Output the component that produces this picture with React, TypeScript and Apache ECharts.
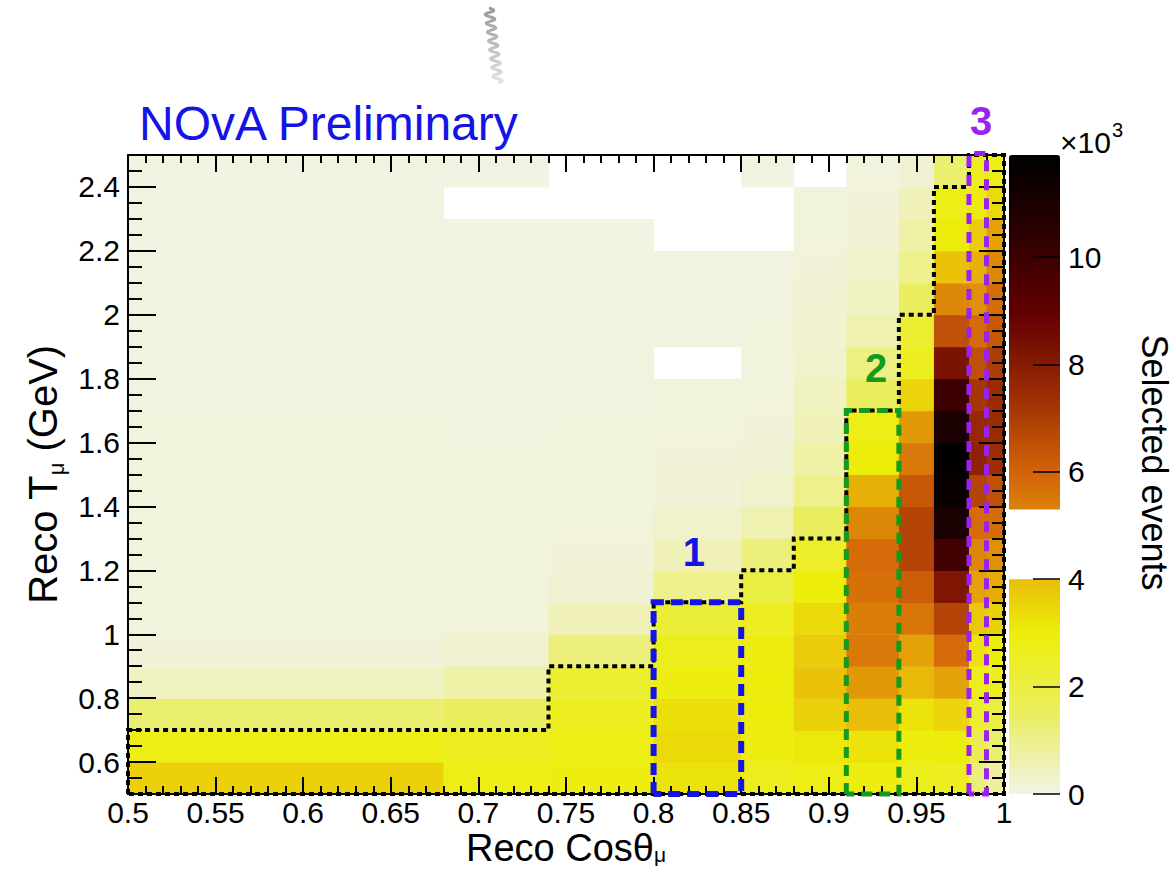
import React, { useEffect, useRef } from "react";
import * as echarts from "echarts";

// ---- binning ----
const xEdges = [0.5, 0.68, 0.74, 0.8, 0.85, 0.88, 0.91, 0.94, 0.96, 0.98, 0.99, 1.0];
const yEdges = [0.5, 0.6, 0.7, 0.8, 0.9, 1.0, 1.1, 1.2, 1.3, 1.4, 1.5, 1.6, 1.7, 1.8, 1.9, 2.0, 2.1, 2.2, 2.3, 2.4, 2.5];

// ---- selected events (x10^3), one array per cos-theta column, rows from T=0.5 upward ----
const col_050_068 = [3.6, 2.8, 1.3, 0.4, 0.15, 0.1, 0.1, 0.1, 0.1, 0.1, 0.1, 0.1, 0.08, 0.08, 0.08, 0.08, 0.06, 0.06, 0.05, 0.05];
const col_068_074 = [2.8, 2.6, 1.5, 0.7, 0.25, 0.12, 0.1, 0.1, 0.1, 0.1, 0.1, 0.08, 0.08, 0.08, 0.06, 0.06, 0.05, 0.05, 0, 0.04];
const col_074_080 = [2.9, 2.8, 2.6, 2.3, 1.2, 0.5, 0.2, 0.15, 0.12, 0.1, 0.1, 0.1, 0.08, 0.08, 0.06, 0.06, 0.05, 0.05, 0, 0];
const col_080_085 = [3.2, 3.4, 3.3, 2.9, 2.7, 2.2, 1.0, 0.5, 0.3, 0.18, 0.15, 0.12, 0.1, 0, 0.08, 0.07, 0.06, 0, 0, 0];
const col_085_088 = [2.7, 2.9, 3.0, 3.0, 2.9, 2.6, 2.0, 1.2, 0.6, 0.3, 0.2, 0.15, 0.12, 0.1, 0.1, 0.08, 0.07, 0, 0, 0.05];
const col_088_091 = [2.8, 3.1, 3.6, 3.9, 3.7, 3.4, 3.0, 2.4, 1.5, 1.0, 0.7, 0.5, 0.4, 0.3, 0.25, 0.2, 0.15, 0.1, 0.1, 0];
const col_091_094 = [2.9, 3.2, 4.0, 4.8, 5.5, 5.4, 5.7, 5.8, 5.2, 4.3, 3.0, 2.8, 1.5, 1.1, 0.6, 0.4, 0.3, 0.2, 0.15, 0.1];
const col_094_096 = [2.7, 2.9, 3.2, 4.1, 4.6, 5.6, 6.2, 6.8, 6.8, 6.3, 5.5, 4.8, 3.5, 2.6, 2.3, 1.5, 1.0, 0.7, 0.5, 0.2];
const col_096_098 = [2.6, 3.0, 3.5, 4.6, 5.8, 6.8, 8.2, 9.8, 11.0, 11.6, 11.8, 11.0, 10.0, 8.3, 6.5, 5.2, 3.9, 3.0, 2.8, 1.3];
const col_098_099 = [1.2, 1.7, 2.3, 2.8, 3.2, 3.8, 4.6, 5.2, 5.8, 6.8, 7.8, 7.6, 7.2, 6.5, 5.8, 5.0, 4.3, 3.7, 3.0, 2.6];
const col_099_100 = [0.8, 1.3, 2.0, 2.6, 3.0, 3.6, 4.4, 5.0, 5.8, 6.5, 7.4, 7.5, 7.5, 7.0, 6.3, 5.8, 5.2, 4.6, 3.4, 2.8];
const columns = [col_050_068, col_068_074, col_074_080, col_080_085, col_085_088, col_088_091, col_091_094, col_094_096, col_096_098, col_098_099, col_099_100];

// ---- overlay regions ----
const stairLine = [[0.5, 0.5], [0.5, 0.7], [0.74, 0.7], [0.74, 0.9], [0.8, 0.9], [0.8, 1.1], [0.85, 1.1], [0.85, 1.2], [0.88, 1.2], [0.88, 1.3], [0.91, 1.3], [0.91, 1.7], [0.94, 1.7], [0.94, 2.0], [0.96, 2.0], [0.96, 2.4], [0.98, 2.4], [0.98, 2.5], [1.0, 2.5], [1.0, 0.5], [0.5, 0.5]];
const box1 = [[0.8, 0.5], [0.8, 1.1], [0.85, 1.1], [0.85, 0.5], [0.8, 0.5]];
const box2 = [[0.91, 0.5], [0.91, 1.7], [0.94, 1.7], [0.94, 0.5], [0.91, 0.5]];
const box3 = [[0.98, 0.5], [0.98, 2.505], [0.99, 2.505], [0.99, 0.5], [0.98, 0.5]];
const boxLabels = ["1", "2", "3"];
const boxLabelAnchors = [[0.823, 1.256], [0.927, 1.834], [0.987, 2.606]];

// ---- ticks ----
const yMajorTicks = [0.6, 0.8, 1, 1.2, 1.4, 1.6, 1.8, 2, 2.2, 2.4];
const yMinorTicks = [0.55, 0.65, 0.7, 0.75, 0.85, 0.9, 0.95, 1.05, 1.1, 1.15, 1.25, 1.3, 1.35, 1.45, 1.5, 1.55, 1.65, 1.7, 1.75, 1.85, 1.9, 1.95, 2.05, 2.1, 2.15, 2.25, 2.3, 2.35, 2.45];
const cbTicks = [0, 2, 4, 6, 8, 10];
const zMax = 11.9;
const palette = ["#f2f3e6", "#eaee5f", "#edee0b", "#e6a808", "#d46509", "#9c2d03", "#630001", "#2d0001", "#000000"];

const FONT = '"Liberation Sans", Arial, Helvetica, sans-serif';
const BLUE = "#1414e6";
const GREEN = "#149a1c";
const PURPLE = "#9a22ee";

export default function App() {
  const ref = useRef<HTMLDivElement>(null);
  useEffect(() => {
    const el = ref.current!;
    const chart = echarts.init(el, null, { renderer: "svg" });

    const cells: number[][] = [];
    columns.forEach((col, i) =>
      col.forEach((v, j) => {
        if (v > 0) cells.push([xEdges[i], xEdges[i + 1], yEdges[j], yEdges[j + 1], v]);
      })
    );

    const axLine = { show: true, onZero: false, lineStyle: { color: "#000", width: 2 } };
    const tickStyle = { color: "#000", width: 2 };
    const lbl = { fontSize: 30, color: "#000", fontFamily: FONT };

    const overlay = (data: number[][], color: string, width: number, dash: number[]) => ({
      type: "line",
      xAxisIndex: 0,
      yAxisIndex: 0,
      data,
      symbol: "none",
      clip: false,
      silent: true,
      z: 20,
      lineStyle: { color, width, type: dash, cap: "butt", join: "miter" },
    });

    const gridBase = { show: false, containLabel: false, outerBoundsMode: "none" };

    const option: any = {
      animation: false,
      backgroundColor: "#ffffff",
      textStyle: { fontFamily: FONT },
      grid: [
        { ...gridBase, left: 128, top: 155, width: 876, height: 639 },
        { ...gridBase, left: 128, top: 155, width: 876, height: 639 },
        { ...gridBase, left: 1009, top: 155, width: 51, height: 639 },
      ],
      xAxis: [
        {
          gridIndex: 0, type: "value", min: 0.5, max: 1, interval: 0.05, position: "bottom", z: 10,
          axisLine: axLine,
          axisTick: { show: true, inside: true, length: 17, lineStyle: tickStyle },
          minorTick: { show: true, splitNumber: 5, length: 8, lineStyle: tickStyle },
          splitLine: { show: false },
          axisLabel: { ...lbl, margin: 3, lineHeight: 30 },
          name: "{a|Reco Cosθ}{s|μ}",
          nameLocation: "middle",
          nameGap: 39,
          nameMoveOverlap: false,
          nameTextStyle: {
            color: "#000", fontFamily: FONT, fontSize: 38,
            rich: {
              a: { fontSize: 38, fontFamily: FONT, color: "#000", lineHeight: 30 },
              s: { fontSize: 21, fontFamily: FONT, color: "#000", lineHeight: 18, padding: [12, 0, 0, 0] },
            },
          },
        },
        {
          gridIndex: 0, type: "value", min: 0.5, max: 1, interval: 0.05, position: "top", z: 10,
          axisLine: axLine,
          axisTick: { show: true, inside: true, length: 17, lineStyle: tickStyle },
          minorTick: { show: true, splitNumber: 5, length: 8, lineStyle: tickStyle },
          splitLine: { show: false },
          axisLabel: { show: false },
        },
        { gridIndex: 1, type: "value", min: 0.5, max: 1, show: false, axisLine: { onZero: false } },
        { gridIndex: 2, type: "value", min: 0, max: 1, show: false, axisLine: { onZero: false } },
      ],
      yAxis: [
        {
          gridIndex: 0, type: "value", min: 0.5, max: 2.5, position: "left", z: 10,
          axisLine: axLine,
          axisTick: { show: true, inside: true, length: 28, customValues: yMajorTicks, lineStyle: tickStyle },
          axisLabel: { ...lbl, margin: 8, customValues: yMajorTicks },
          splitLine: { show: false },
          name: "{a|Reco T}{s|μ}{a| (GeV)}",
          nameLocation: "middle",
          nameRotate: 90,
          nameGap: 58,
          nameTextStyle: {
            color: "#000", fontFamily: FONT, fontSize: 40,
            rich: {
              a: { fontSize: 40, fontFamily: FONT, color: "#000" },
              s: { fontSize: 22, fontFamily: FONT, color: "#000", padding: [26, 0, 0, 0] },
            },
          },
        },
        {
          gridIndex: 0, type: "value", min: 0.5, max: 2.5, position: "right", z: 10,
          axisLine: axLine,
          axisTick: { show: true, inside: true, length: 25, customValues: yMajorTicks, lineStyle: tickStyle },
          axisLabel: { show: false },
          splitLine: { show: false },
        },
        {
          gridIndex: 1, type: "value", min: 0.5, max: 2.5, position: "left", z: 10,
          axisLine: { show: false, onZero: false },
          axisTick: { show: true, inside: true, length: 14, customValues: yMinorTicks, lineStyle: tickStyle },
          axisLabel: { show: false },
          splitLine: { show: false },
        },
        {
          gridIndex: 1, type: "value", min: 0.5, max: 2.5, position: "right", z: 10,
          axisLine: { show: false, onZero: false },
          axisTick: { show: true, inside: true, length: 12, customValues: yMinorTicks, lineStyle: tickStyle },
          axisLabel: { show: false },
          splitLine: { show: false },
        },
        {
          gridIndex: 2, type: "value", min: 0, max: zMax, position: "right", z: 10,
          axisLine: { show: false, onZero: false },
          axisTick: { show: true, inside: true, length: 27, customValues: cbTicks, lineStyle: { color: "#000", width: 1.5 } },
          axisLabel: { ...lbl, margin: 8, customValues: cbTicks },
          splitLine: { show: false },
          name: "Selected events",
          nameLocation: "middle",
          nameRotate: -90,
          nameGap: 76,
          nameTextStyle: { color: "#000", fontFamily: FONT, fontSize: 36, padding: [0, 24, 0, 0] },
        },
      ],
      visualMap: {
        type: "continuous",
        show: true,
        seriesIndex: 0,
        dimension: 4,
        min: 0,
        max: zMax,
        calculable: false,
        hoverLink: false,
        orient: "vertical",
        left: 1009,
        top: 155,
        padding: 0,
        itemWidth: 51,
        itemHeight: 639,
        inRange: { color: palette },
      },
      series: [
        {
          type: "custom",
          xAxisIndex: 0,
          yAxisIndex: 0,
          z: 2,
          silent: true,
          encode: { x: [0, 1], y: [2, 3] },
          data: cells,
          renderItem: (params: any, api: any) => {
            const p0 = api.coord([api.value(0), api.value(3)]);
            const p1 = api.coord([api.value(1), api.value(2)]);
            return {
              type: "rect",
              shape: { x: p0[0], y: p0[1], width: p1[0] - p0[0] + 0.6, height: p1[1] - p0[1] + 0.6 },
              style: { fill: api.visual("color") },
            };
          },
        },
        overlay(stairLine, "#000000", 4, [5, 4]),
        overlay(box1, BLUE, 6, [12, 7]),
        overlay(box2, GREEN, 5, [11, 7]),
        overlay(box3, PURPLE, 5, [11, 8]),
      ],
    };

    chart.setOption(option);

    // decorations computed through the scales
    const toPx = (x: number, y: number) => chart.convertToPixel({ xAxisIndex: 0, yAxisIndex: 0 }, [x, y]) as number[];
    const gapTop = chart.convertToPixel({ yAxisIndex: 4 }, 5.3) as number;
    const gapBot = chart.convertToPixel({ yAxisIndex: 4 }, 4.0) as number;
    const labelColors = [BLUE, GREEN, PURPLE];

    const squiggle: number[][] = [];
    for (let i = 0; i <= 120; i++) {
      const t = i / 120;
      squiggle.push([489 + 9 * t + 4.5 * Math.sin(2 * Math.PI * 8.5 * t), 8 + 75 * t]);
    }

    const elements: any[] = [
      {
        type: "rect", z: 8, silent: true,
        shape: { x: 1006, y: gapTop, width: 58, height: gapBot - gapTop },
        style: { fill: "#ffffff" },
      },
      {
        type: "text", z: 30, left: 139, top: 99,
        style: { text: "NOvA Preliminary", fill: BLUE, font: `48px ${FONT}` },
      },
      {
        type: "text", z: 30, x: 1060, y: 142,
        style: { text: "×10", fill: "#000", font: `30px ${FONT}`, textVerticalAlign: "middle" },
      },
      {
        type: "text", z: 30, x: 1112, y: 130,
        style: { text: "3", fill: "#000", font: `20px ${FONT}`, textVerticalAlign: "middle" },
      },
      {
        type: "polyline", z: 30, silent: true,
        shape: { points: squiggle, smooth: 0.3 },
        style: {
          fill: "none",
          lineWidth: 3,
          stroke: { type: "linear", x: 0, y: 0, x2: 0, y2: 1, colorStops: [{ offset: 0, color: "#9a9a9a" }, { offset: 1, color: "#e2e2e2" }] },
        },
      },
    ];
    boxLabels.forEach((t, i) => {
      const p = toPx(boxLabelAnchors[i][0], boxLabelAnchors[i][1]);
      elements.push({
        type: "text", z: 30, x: p[0], y: p[1],
        style: { text: t, fill: labelColors[i], font: `bold 40px ${FONT}`, textAlign: "center", textVerticalAlign: "middle" },
      });
    });
    chart.setOption({ graphic: { elements } });

    return () => chart.dispose();
  }, []);
  return <div ref={ref} style={{ position: "fixed", left: 0, top: 0, width: 1173, height: 870 }} />;
}
